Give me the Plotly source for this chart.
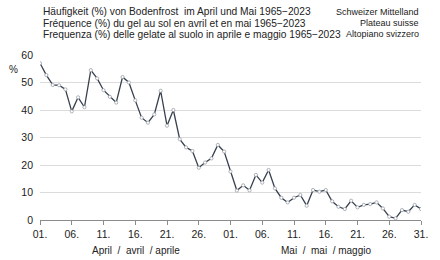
import plotly.graph_objects as go

# Day index 0..60 = 1 April .. 31 May
days = list(range(61))
frost_pct = [
    57.0, 52.7, 49.1, 49.0, 47.5, 39.5, 44.6, 41.0, 54.5, 51.5,
    47.2, 44.8, 42.7, 52.0, 50.0, 43.5, 37.2, 35.4, 38.4, 47.0,
    34.3, 40.0, 29.4, 26.4, 25.1, 19.0, 20.9, 22.4, 27.3, 24.9,
    17.6, 10.7, 12.6, 10.8, 16.4, 13.6, 18.2, 11.5, 8.1, 6.4,
    8.1, 9.1, 5.2, 10.9, 10.3, 10.9, 6.8, 4.8, 4.0, 7.0,
    4.6, 5.5, 5.8, 6.4, 4.2, 1.2, 0.6, 3.6, 3.0, 5.5, 4.0,
]
tick_vals = [0, 5, 10, 15, 20, 25, 30, 35, 40, 45, 50, 55, 60]
tick_text = ["01.", "06.", "11.", "16.", "21.", "26.", "01.", "06.", "11.", "16.", "21.", "26.", "31."]
y_ticks = [0, 10, 20, 30, 40, 50, 60]

title_left = [
    "Häufigkeit (%) von Bodenfrost  im April und Mai 1965−2023",
    "Fréquence (%) du gel au sol en avril et en mai 1965−2023",
    "Frequenza (%) delle gelate al suolo in aprile e maggio 1965−2023",
]
title_right = ["Schweizer Mittelland", "Plateau suisse", "Altopiano svizzero"]
month_labels = ["April  /  avril  / aprile", "Mai  /  mai  / maggio"]

FONT = "Liberation Sans, Arial, sans-serif"
TXT = "#222222"

fig = go.Figure()
fig.add_trace(go.Scatter(
    x=days, y=frost_pct, mode="lines+markers",
    line=dict(color="#36404e", width=1.3),
    marker=dict(size=3.2, color="white", line=dict(color="#9aa0a8", width=0.8)),
    hoverinfo="skip",
))

L, R, T, B = 40, 12, 55, 40
W, H = 440, 260
pw, ph = W - L - R, H - T - B

def px(xp):
    return (xp - L) / pw

def py(yp):
    return (H - B - yp) / ph

ann = []
for t, yp in zip(title_left, [11.7, 23.3, 34.0]):
    ann.append(dict(text=t, x=px(41.5), y=py(yp), xref="paper", yref="paper",
                    xanchor="left", yanchor="middle", showarrow=False,
                    font=dict(size=10.2, color=TXT, family=FONT)))
for t, yp in zip(title_right, [11.7, 23.3, 34.0]):
    ann.append(dict(text=t, x=px(428), y=py(yp), xref="paper", yref="paper",
                    xanchor="right", yanchor="middle", showarrow=False,
                    font=dict(size=9, color=TXT, family=FONT)))
ann.append(dict(text="%", x=px(13), y=py(69), xref="paper", yref="paper",
                xanchor="center", yanchor="middle", showarrow=False,
                font=dict(size=10, color=TXT, family=FONT)))
for t, xp in zip(month_labels, [137.5, 331]):
    ann.append(dict(text=t, x=px(xp), y=py(250), xref="paper", yref="paper",
                    xanchor="center", yanchor="middle", showarrow=False,
                    font=dict(size=10, color=TXT, family=FONT)))

fig.update_layout(
    width=W, height=H,
    margin=dict(l=L, r=R, t=T, b=B, pad=0),
    paper_bgcolor="white", plot_bgcolor="white",
    showlegend=False,
    font=dict(family=FONT, size=10, color=TXT),
    annotations=ann,
    xaxis=dict(range=[0, 60], tickvals=tick_vals, ticktext=tick_text,
               showgrid=False, zeroline=False, showline=True,
               linecolor="#8c8c8c", linewidth=1, ticks="outside",
               tickcolor="#8c8c8c", ticklen=4, tickwidth=1,
               tickfont=dict(size=10.5, color=TXT, family=FONT)),
    yaxis=dict(range=[0, 60], tickvals=y_ticks, showgrid=True,
               gridcolor="#dcdcdc", gridwidth=1, zeroline=False,
               showline=False, ticks="", ticklabelstandoff=6,
               tickfont=dict(size=10.5, color=TXT, family=FONT)),
)

fig.write_html("out.html")
